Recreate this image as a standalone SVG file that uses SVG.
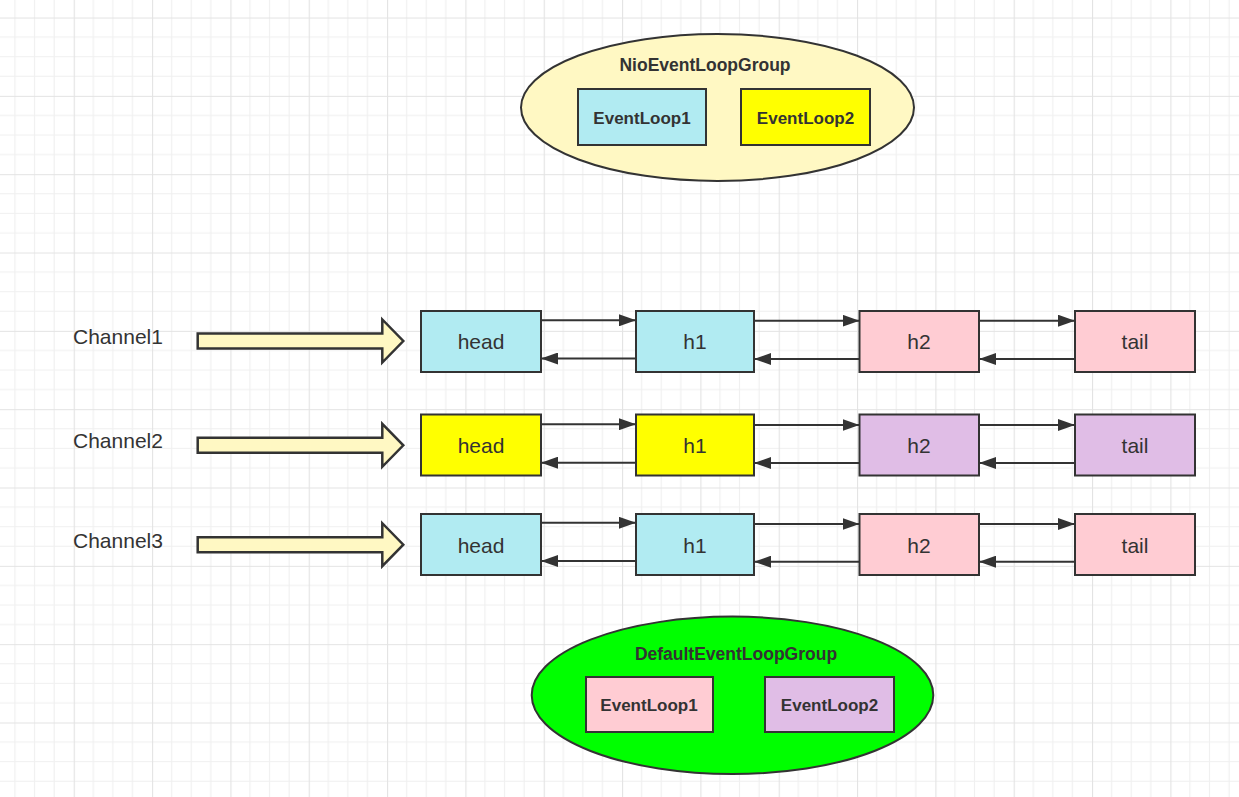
<svg xmlns="http://www.w3.org/2000/svg" width="1239" height="797" viewBox="0 0 1239 797">
<style>
.box{stroke:#333;stroke-width:2}
.cyan{fill:#b1ebf2}.yel{fill:#ffff00}.pink{fill:#ffccd3}.purp{fill:#e0bde6}
.lbl{font-family:"Liberation Sans",Arial,sans-serif;font-size:21px;fill:#333;text-anchor:middle}
.blbl{font-family:"Liberation Sans",Arial,sans-serif;font-size:17px;font-weight:bold;fill:#333;text-anchor:middle}
.ttl{font-family:"Liberation Sans",Arial,sans-serif;font-size:17.5px;font-weight:bold;fill:#333;text-anchor:middle}
.ch{font-family:"Liberation Sans",Arial,sans-serif;font-size:21px;fill:#333}
.conn line{stroke:#333;stroke-width:2;marker-end:url(#ah)}
.fat{fill:#fff8c3;stroke:#333;stroke-width:2.5;stroke-linejoin:miter}
</style>
<defs>
<pattern id="grid" patternUnits="userSpaceOnUse" x="-4.6" y="-60.8" width="78.33" height="78.33">
<path d="M19.58,0V78.33M39.16,0V78.33M58.75,0V78.33M0,19.58H78.33M0,39.16H78.33M0,58.75H78.33" stroke="#f0f0f0" stroke-width="1.2" fill="none"/>
<path d="M0.5,0V78.33M0,0.5H78.33" stroke="#e3e3e3" stroke-width="1.2" fill="none"/>
</pattern>
<marker id="ah" markerUnits="userSpaceOnUse" markerWidth="17" markerHeight="12" refX="17" refY="6" orient="auto">
<path d="M0,0L17,6L0,12Z" fill="#333"/>
</marker>
<path id="fatArrow" d="M197.7,-7.5H382.3V-21.5L403.3,0L382.3,21.5V7.5H197.7Z"/>
</defs>
<rect width="1239" height="797" fill="#ffffff"/>
<rect width="1239" height="797" fill="url(#grid)"/>

<g id="nioGroup">
<ellipse cx="717.5" cy="107.5" rx="196.5" ry="73.5" fill="#fff8c3" stroke="#333" stroke-width="2"/>
<text class="ttl" x="705" y="70.5">NioEventLoopGroup</text>
</g>
<g id="nioEventLoop1">
<rect class="box cyan" x="578" y="89" width="128" height="56"/>
<text class="blbl" x="642" y="123.5">EventLoop1</text>
</g>
<g id="nioEventLoop2">
<rect class="box yel" x="741" y="89" width="129" height="56"/>
<text class="blbl" x="805.5" y="123.5">EventLoop2</text>
</g>

<g id="channel1">
<text class="ch" x="73" y="344">Channel1</text>
<use href="#fatArrow" class="fat" transform="translate(0,341)"/>
</g>
<g id="channel2">
<text class="ch" x="73" y="448">Channel2</text>
<use href="#fatArrow" class="fat" transform="translate(0,445.3)"/>
</g>
<g id="channel3">
<text class="ch" x="73" y="547.5">Channel3</text>
<use href="#fatArrow" class="fat" transform="translate(0,544.7)"/>
</g>

<g id="r1head"><rect class="box cyan" x="421" y="311" width="120" height="61"/><text class="lbl" x="481" y="349">head</text></g>
<g id="r1h1"><rect class="box cyan" x="636" y="311" width="118" height="61"/><text class="lbl" x="695" y="349">h1</text></g>
<g id="r1h2"><rect class="box pink" x="859.5" y="311" width="119.5" height="61"/><text class="lbl" x="919" y="349">h2</text></g>
<g id="r1tail"><rect class="box pink" x="1075" y="311" width="120" height="61"/><text class="lbl" x="1135" y="349">tail</text></g>

<g id="r2head"><rect class="box yel" x="421" y="414.5" width="120" height="61"/><text class="lbl" x="481" y="452.5">head</text></g>
<g id="r2h1"><rect class="box yel" x="636" y="414.5" width="118" height="61"/><text class="lbl" x="695" y="452.5">h1</text></g>
<g id="r2h2"><rect class="box purp" x="859.5" y="414.5" width="119.5" height="61"/><text class="lbl" x="919" y="452.5">h2</text></g>
<g id="r2tail"><rect class="box purp" x="1075" y="414.5" width="120" height="61"/><text class="lbl" x="1135" y="452.5">tail</text></g>

<g id="r3head"><rect class="box cyan" x="421" y="514" width="120" height="61"/><text class="lbl" x="481" y="552.5">head</text></g>
<g id="r3h1"><rect class="box cyan" x="636" y="514" width="118" height="61"/><text class="lbl" x="695" y="552.5">h1</text></g>
<g id="r3h2"><rect class="box pink" x="859.5" y="514" width="119.5" height="61"/><text class="lbl" x="919" y="552.5">h2</text></g>
<g id="r3tail"><rect class="box pink" x="1075" y="514" width="120" height="61"/><text class="lbl" x="1135" y="552.5">tail</text></g>

<g id="connectors" class="conn">
<line x1="541" y1="320.3" x2="636" y2="320.3"/>
<line x1="754" y1="320.7" x2="859.5" y2="320.7"/>
<line x1="979" y1="320.7" x2="1075" y2="320.7"/>
<line x1="636" y1="358.5" x2="541" y2="358.5"/>
<line x1="859.5" y1="359" x2="754" y2="359"/>
<line x1="1075" y1="359" x2="979" y2="359"/>

<line x1="541" y1="424.2" x2="636" y2="424.2"/>
<line x1="754" y1="425" x2="859.5" y2="425"/>
<line x1="979" y1="425" x2="1075" y2="425"/>
<line x1="636" y1="462.7" x2="541" y2="462.7"/>
<line x1="859.5" y1="463" x2="754" y2="463"/>
<line x1="1075" y1="463" x2="979" y2="463"/>

<line x1="541" y1="522.8" x2="636" y2="522.8"/>
<line x1="754" y1="524" x2="859.5" y2="524"/>
<line x1="979" y1="524" x2="1075" y2="524"/>
<line x1="636" y1="561" x2="541" y2="561"/>
<line x1="859.5" y1="561.7" x2="754" y2="561.7"/>
<line x1="1075" y1="561.7" x2="979" y2="561.7"/>
</g>

<g id="defaultGroup">
<ellipse cx="732.5" cy="695.3" rx="200.8" ry="78.7" fill="#00ff00" stroke="#333" stroke-width="2"/>
<text class="ttl" x="736" y="660">DefaultEventLoopGroup</text>
</g>
<g id="defEventLoop1">
<rect class="box pink" x="586" y="677" width="127" height="55"/>
<text class="blbl" x="649" y="711">EventLoop1</text>
</g>
<g id="defEventLoop2">
<rect class="box purp" x="765" y="677" width="129" height="55"/>
<text class="blbl" x="829.5" y="711">EventLoop2</text>
</g>
</svg>
